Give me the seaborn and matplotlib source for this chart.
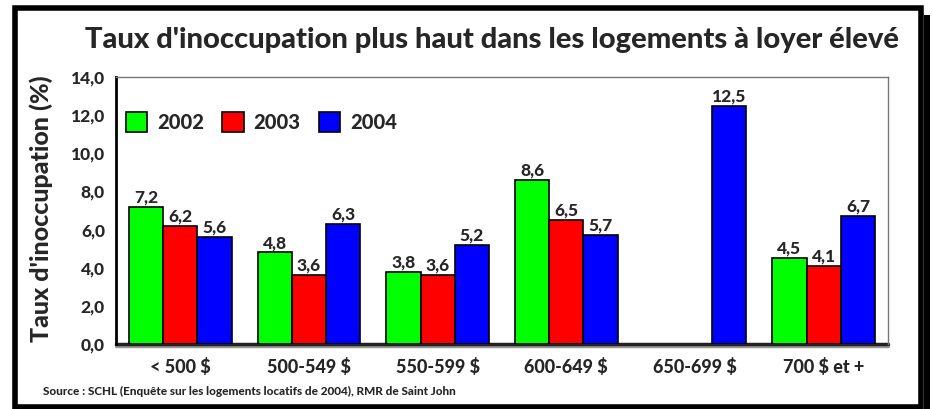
import pandas as pd
import seaborn as sns
import matplotlib.pyplot as plt
import numpy as np
from matplotlib.patches import Rectangle, Patch

# Données
categories = ["< 500 $", "500-549 $", "550-599 $", "600-649 $", "650-699 $", "700 $ et +"]
years = ["2002", "2003", "2004"]
taux_2002 = [7.2, 4.8, 3.8, 8.6, np.nan, 4.5]
taux_2003 = [6.2, 3.6, 3.6, 6.5, np.nan, 4.1]
taux_2004 = [5.6, 6.3, 5.2, 5.7, 12.5, 6.7]
colors = ["#00ff00", "#ff0000", "#0000ff"]

df = pd.DataFrame({"cat": categories, "2002": taux_2002, "2003": taux_2003, "2004": taux_2004})
df = pd.melt(df, id_vars=["cat"], value_vars=years, var_name="annee", value_name="taux")

W = "black"
sns.set_style("white")
plt.rcParams["font.family"] = ["Lato", "DejaVu Sans"]
plt.rcParams["font.weight"] = W

fig = plt.figure(figsize=(9.33, 4.09), dpi=100)
ax = fig.add_axes([116 / 933, 1 - 344 / 409, (888 - 116) / 933, (344 - 77) / 409])

sns.barplot(data=df, x="cat", y="taux", hue="annee", palette=colors, order=categories,
            hue_order=years, width=0.8, edgecolor="black", linewidth=1.2, saturation=1,
            ax=ax, legend=False, zorder=3)

# étiquettes de valeurs
for cont in ax.containers:
    labels = ["" if np.isnan(v) else f"{v:.1f}".replace(".", ",") for v in cont.datavalues]
    ax.bar_label(cont, labels=labels, padding=1, fontsize=12.5, fontweight=W)

ax.set_ylim(0, 14)
ax.set_yticks(np.arange(0, 15, 2))
ax.set_yticklabels([f"{v:.1f}".replace(".", ",") for v in np.arange(0, 15, 2)],
                   fontsize=12.5, fontweight=W)
ax.tick_params(axis="x", labelsize=13, pad=10, length=0)
ax.tick_params(axis="y", length=0, pad=8)
for lab in ax.get_xticklabels():
    lab.set_fontweight(W)
ax.set_xlabel("")
ax.set_ylabel("Taux d'inoccupation (%)", fontsize=18, fontweight=W)
ax.yaxis.set_label_coords(-0.082, 0.505)

for s in ["top", "right"]:
    ax.spines[s].set_color("#777777")
    ax.spines[s].set_linewidth(1)
ax.spines["left"].set_color("black")
ax.spines["left"].set_linewidth(2)
ax.spines["bottom"].set_visible(False)
# ligne du zéro avec ombre
ax.axhline(-0.12, color="#999999", linewidth=2.5, zorder=2, clip_on=False)
ax.axhline(0, color="#222222", linewidth=2.5, zorder=2, clip_on=False)

handles = [Patch(facecolor=c, edgecolor="black", linewidth=1.2) for c in colors]
ax.legend(handles, years, ncol=3, loc="upper left", bbox_to_anchor=(0.0, 0.905),
          frameon=False, handlelength=1.05, handleheight=1.1, borderaxespad=0.1,
          handletextpad=0.5, columnspacing=0.9, prop={"weight": W, "size": 14.5})

fig.text(492 / 933, 1 - 40 / 409, "Taux d'inoccupation plus haut dans les logements à loyer élevé",
         ha="center", va="center", fontsize=21, fontweight=W)
fig.text(43 / 933, 1 - 391 / 409,
         "Source : SCHL (Enquête sur les logements locatifs de 2004), RMR de Saint John",
         ha="left", va="center", fontsize=8.5, fontweight=W)

# cadre extérieur avec ombre
fig.patches.append(Rectangle((924 / 933, 0), 6 / 933, 1 - 15 / 409, transform=fig.transFigure,
                             facecolor="black", edgecolor="none"))
fig.patches.append(Rectangle((14.5 / 933, 2.5 / 409), (921 - 14.5) / 933, (401 - 2.5) / 409,
                             transform=fig.transFigure, fill=False, edgecolor="black",
                             linewidth=4))

fig.savefig("out.png", dpi=100)
